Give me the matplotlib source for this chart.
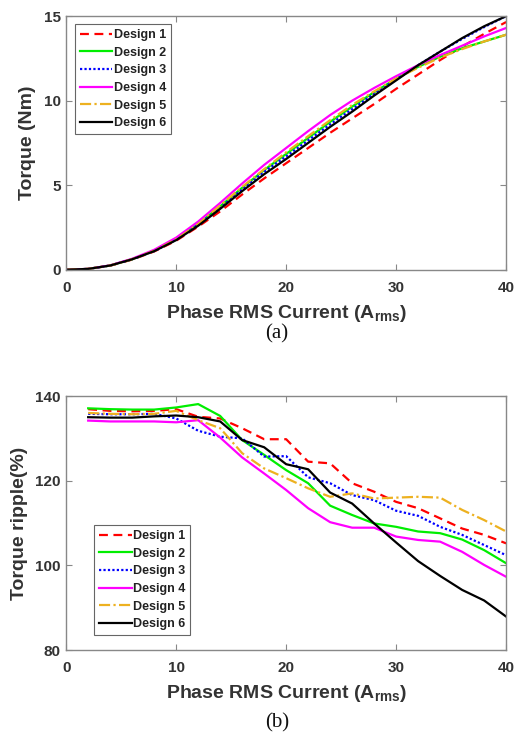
import matplotlib
matplotlib.use('Agg')
import matplotlib.pyplot as plt

plt.rcParams['font.family'] = 'Liberation Sans'
plt.rcParams['font.weight'] = 'bold'
plt.rcParams['mathtext.fontset'] = 'custom'
plt.rcParams['mathtext.rm'] = 'Liberation Sans:bold'
plt.rcParams['mathtext.bf'] = 'Liberation Sans:bold'

# 数据: 相电流 (A_rms)
current_a = [0, 2, 4, 6, 8, 10, 12, 14, 16, 18, 20, 22, 24, 26, 28, 30, 32, 34, 36, 38, 40]
current_b = [2, 4, 6, 8, 10, 12, 14, 16, 18, 20, 22, 24, 26, 28, 30, 32, 34, 36, 38, 40]

labels = ['Design 1', 'Design 2', 'Design 3', 'Design 4', 'Design 5', 'Design 6']
colors = ['#ff0000', '#00ee00', '#0000ff', '#ff00ff', '#edb120', '#000000']
styles = [(0, (4, 2.5)), '-', (0, (1, 1)), '-', (0, (5, 1.5, 1, 1.5)), '-']

# (a) 转矩 (Nm)
torque_d1 = [0, 0.05, 0.24, 0.6, 1.08, 1.72, 2.55, 3.45, 4.45, 5.4, 6.3, 7.2, 8.1, 8.95, 9.8, 10.7, 11.55, 12.4, 13.2, 13.95, 14.65]
torque_d2 = [0, 0.05, 0.25, 0.62, 1.12, 1.8, 2.7, 3.75, 4.85, 5.9, 6.85, 7.8, 8.75, 9.65, 10.5, 11.3, 12.0, 12.6, 13.1, 13.5, 13.9]
torque_d3 = [0, 0.05, 0.25, 0.62, 1.1, 1.78, 2.65, 3.65, 4.75, 5.8, 6.7, 7.65, 8.6, 9.5, 10.4, 11.25, 12.1, 12.9, 13.65, 14.35, 15.0]
torque_d4 = [0, 0.05, 0.26, 0.65, 1.18, 1.9, 2.85, 3.95, 5.1, 6.2, 7.2, 8.2, 9.15, 10.0, 10.75, 11.45, 12.1, 12.7, 13.25, 13.8, 14.3]
torque_d5 = [0, 0.05, 0.25, 0.62, 1.12, 1.8, 2.7, 3.8, 4.9, 5.95, 6.95, 7.9, 8.85, 9.75, 10.55, 11.3, 11.95, 12.55, 13.05, 13.5, 13.9]
torque_d6 = [0, 0.05, 0.25, 0.62, 1.1, 1.75, 2.6, 3.6, 4.65, 5.65, 6.55, 7.5, 8.45, 9.35, 10.3, 11.2, 12.1, 12.9, 13.7, 14.4, 15.0]

# (b) 转矩脉动 (%)
ripple_d1 = [136.9, 136.5, 136.4, 136.5, 136.9, 135.1, 134.7, 132.4, 129.8, 129.8, 124.5, 124.1, 119.4, 117.4, 115.0, 113.5, 111.1, 108.7, 107.2, 105.2]
ripple_d2 = [137.1, 136.9, 136.8, 136.8, 137.3, 138.1, 135.3, 129.6, 126.1, 122.5, 119.4, 114.1, 111.9, 109.9, 109.1, 108.0, 107.6, 106.1, 103.6, 100.5]
ripple_d3 = [135.8, 135.7, 135.7, 135.8, 134.7, 131.8, 130.4, 130.0, 125.7, 125.8, 120.8, 119.4, 116.6, 115.4, 112.9, 111.7, 109.1, 107.2, 104.8, 102.4]
ripple_d4 = [134.2, 134.0, 134.0, 134.0, 133.8, 134.3, 130.2, 125.5, 121.7, 117.8, 113.5, 110.2, 108.9, 108.9, 106.8, 106.0, 105.6, 103.2, 100.1, 97.3]
ripple_d5 = [136.0, 135.8, 135.7, 135.8, 136.5, 134.3, 132.4, 126.5, 122.9, 120.6, 118.2, 116.2, 117.0, 115.8, 116.0, 116.2, 116.0, 113.1, 110.7, 108.0]
ripple_d6 = [135.0, 134.9, 134.9, 135.2, 135.4, 135.0, 134.0, 129.6, 127.9, 123.9, 122.7, 117.2, 114.6, 109.9, 105.4, 101.0, 97.5, 94.2, 91.7, 87.9]

torque_all = [torque_d1, torque_d2, torque_d3, torque_d4, torque_d5, torque_d6]
ripple_all = [ripple_d1, ripple_d2, ripple_d3, ripple_d4, ripple_d5, ripple_d6]

txt_color = '#333333'
edge_color = '#888888'


def style_axes(ax):
    for sp in ax.spines.values():
        sp.set_color(edge_color)
        sp.set_linewidth(1.0)
    ax.tick_params(direction='in', length=4, width=0.8, color=edge_color,
                   labelcolor=txt_color, labelsize=11, top=True, right=True)
    ax.tick_params(axis='x', pad=8)
    ax.tick_params(axis='y', pad=4)
    for t in ax.get_xticklabels() + ax.get_yticklabels():
        t.set_fontweight('bold')


def add_legend(ax, anchor):
    leg = ax.legend(loc='upper left', bbox_to_anchor=anchor, fontsize=9,
                    handlelength=2.6, handletextpad=0.1, labelspacing=0.45,
                    borderpad=0.4, borderaxespad=0, fancybox=False, framealpha=1)
    leg.get_frame().set_edgecolor('#666666')
    leg.get_frame().set_linewidth(0.8)
    for t in leg.get_texts():
        t.set_color('#222222')
        t.set_fontweight('bold')


fig = plt.figure(figsize=(5.17, 7.33), dpi=100)
ax1 = fig.add_axes([0.128, 0.632, 0.851, 0.346])
ax2 = fig.add_axes([0.128, 0.1132, 0.851, 0.3465])

for y, lab, c, ls in zip(torque_all, labels, colors, styles):
    ax1.plot(current_a, y, color=c, linestyle=ls, linewidth=1.6, label=lab)
ax1.set_xlim(0, 40)
ax1.set_ylim(0, 15)
ax1.set_xticks([0, 10, 20, 30, 40])
ax1.set_yticks([0, 5, 10, 15])
style_axes(ax1)
ax1.set_xlabel('Phase RMS Current (A$_{\\mathrm{rms}}$)', fontsize=14, fontweight='bold', color=txt_color)
ax1.set_ylabel('Torque (Nm)', fontsize=14, fontweight='bold', color=txt_color)
ax1.xaxis.set_label_coords(0.502, -0.13)
ax1.xaxis.label.set_va('top')
ax1.yaxis.set_label_coords(-0.089, 0.5)
ax1.yaxis.label.set_va('center')
add_legend(ax1, (0.02, 0.968))

for y, lab, c, ls in zip(ripple_all, labels, colors, styles):
    ax2.plot(current_b, y, color=c, linestyle=ls, linewidth=1.6, label=lab)
ax2.set_xlim(0, 40)
ax2.set_ylim(80, 140)
ax2.set_xticks([0, 10, 20, 30, 40])
ax2.set_yticks([80, 100, 120, 140])
style_axes(ax2)
ax2.set_xlabel('Phase RMS Current (A$_{\\mathrm{rms}}$)', fontsize=14, fontweight='bold', color=txt_color)
ax2.set_ylabel('Torque ripple(%)', fontsize=14, fontweight='bold', color=txt_color)
ax2.xaxis.set_label_coords(0.502, -0.13)
ax2.xaxis.label.set_va('top')
ax2.yaxis.set_label_coords(-0.105, 0.5)
ax2.yaxis.label.set_va('center')
add_legend(ax2, (0.064, 0.492))

fig.text(0.536, 1 - 334 / 733, '(a)', family='Liberation Serif', fontweight='normal',
         fontsize=15, ha='center', va='center', color='#111111')
fig.text(0.536, 1 - 723 / 733, '(b)', family='Liberation Serif', fontweight='normal',
         fontsize=15, ha='center', va='center', color='#111111')

fig.savefig('out.png', dpi=100)
